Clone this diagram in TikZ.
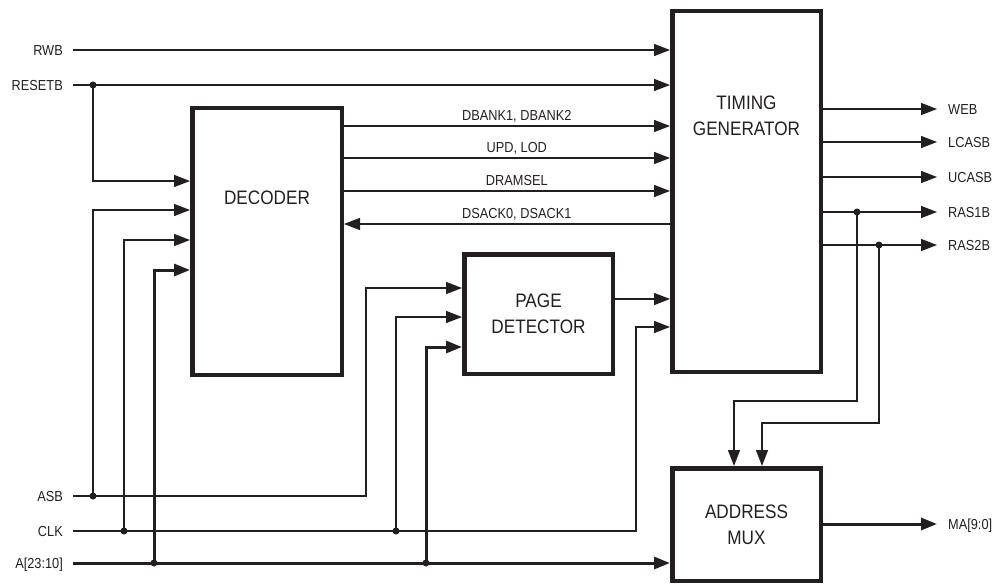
\documentclass[tikz,border=0pt]{standalone}
\usepackage{fontspec}
\setmainfont{Liberation Sans}[FakeStretch=0.88]
\usepackage{tikz}
\usetikzlibrary{arrows.meta,calc,positioning}
\usepackage{xcolor}
\definecolor{ink}{HTML}{231F20}
\newcommand{\sigfont}{\fontsize{14.5}{17}\selectfont}
\newcommand{\blockfont}{\fontsize{19.5}{26}\selectfont}

\begin{document}
\begin{tikzpicture}[x=1pt,y=-1pt,>={Triangle[length=16pt,width=12pt]},
  block/.style={draw=ink,line width=4.5pt,inner sep=0pt},
  blocktext/.style={font=\blockfont,text=ink,align=center,inner sep=0pt},
  sig/.style={font=\sigfont,text=ink,inner sep=0pt,text height=10.4pt,text depth=0pt},
  wire/.style={draw=ink,line width=1.4pt},
  bus/.style={draw=ink,line width=3pt},
  dot/.style={circle,fill=ink,inner sep=0pt,minimum size=7pt}]
  \useasboundingbox (0,0) rectangle (997,586);

  % blocks
  \node[block,minimum width=149.5pt,minimum height=266.5pt] (dec) at (267,241.5) {};
  \node[block,minimum width=148.5pt,minimum height=360.5pt] (tg) at (746.5,191.5) {};
  \node[block,minimum width=148.5pt,minimum height=119.5pt] (pd) at (538.5,314) {};
  \node[block,minimum width=148.5pt,minimum height=112.5pt] (mux) at (746.5,524.5) {};
  \node[blocktext] (dectext) at (267,198) {DECODER};
  \node[blocktext] (tgtext) at (746.5,116) {TIMING\\GENERATOR};
  \node[blocktext] (pdtext) at (pd.center) {PAGE\\DETECTOR};
  \node[blocktext] (muxtext) at (mux.center) {ADDRESS\\MUX};

  % signal names
  \node[sig,anchor=east] (rwb) at (63,50) {RWB};
  \node[sig,anchor=east] (resetb) at (63,85) {RESETB};
  \node[sig,anchor=east] (asb) at (63,496) {ASB};
  \node[sig,anchor=east] (clk) at (63,531) {CLK};
  \node[sig,anchor=east] (addr) at (63,563) {A[23:10]};
  \node[sig,anchor=west] (web) at (948,109) {WEB};
  \node[sig,anchor=west] (lcasb) at (948,142) {LCASB};
  \node[sig,anchor=west] (ucasb) at (948,177) {UCASB};
  \node[sig,anchor=west] (ras1b) at (948,212) {RAS1B};
  \node[sig,anchor=west] (ras2b) at (948,245) {RAS2B};
  \node[sig,anchor=west] (ma) at (948,524) {MA[9:0]};

  % junctions
  \node[dot] (rstdot) at (93,85) {};
  \node[dot] (asbdot) at (93,496) {};
  \node[dot] (clkdot1) at (124,531) {};
  \node[dot] (clkdot2) at (396,531) {};
  \node[dot] (adrdot1) at (154,563) {};
  \node[dot] (adrdot2) at (426,563) {};
  \node[dot] (ras1dot) at (857,212) {};
  \node[dot] (ras2dot) at (879,245) {};

  % inputs
  \draw[wire,->] ([xshift=10pt]rwb.east) -- (tg.west |- rwb);
  \draw[wire,->] ([xshift=10pt]resetb.east) -- (tg.west |- resetb);
  \draw[wire,->] (rstdot.center) |- (dec.west |- 0,181);
  \draw[wire,->] ([xshift=10pt]asb.east) -| (366,288) -- (pd.west |- 0,288);
  \draw[wire,->] (asbdot.center) |- (dec.west |- 0,210);
  \draw[wire,->] ([xshift=10pt]clk.east) -| (636,327) -- (tg.west |- 0,327);
  \draw[wire,->] (clkdot1.center) |- (dec.west |- 0,240);
  \draw[wire,->] (clkdot2.center) |- (pd.west |- 0,317);
  \draw[bus,->] ([xshift=10pt]addr.east) -- (mux.west |- addr);
  \draw[bus,->] (adrdot1.center) |- (dec.west |- 0,270);
  \draw[bus,->] (adrdot2.center) |- (pd.west |- 0,347);

  % decoder <-> timing generator
  \draw[wire,->] (dec.east |- 0,126) -- node[sig,pos=.53,above=5pt] (dbanktext) {DBANK1, DBANK2} (tg.west |- 0,126);
  \draw[wire,->] (dec.east |- 0,158) -- node[sig,pos=.53,above=5pt] (updtext) {UPD, LOD} (tg.west |- 0,158);
  \draw[wire,->] (dec.east |- 0,191) -- node[sig,pos=.53,above=5pt] (dramtext) {DRAMSEL} (tg.west |- 0,191);
  \draw[wire,->] (tg.west |- 0,224) -- node[sig,pos=.47,above=5pt] (dsacktext) {DSACK0, DSACK1} (dec.east |- 0,224);
  \draw[wire,->] (pd.east |- 0,299) -- (tg.west |- 0,299);

  % outputs
  \draw[wire,->] (tg.east |- web) -- ([xshift=-11pt]web.west);
  \draw[wire,->] (tg.east |- lcasb) -- ([xshift=-11pt]lcasb.west);
  \draw[wire,->] (tg.east |- ucasb) -- ([xshift=-11pt]ucasb.west);
  \draw[wire,->] (tg.east |- ras1b) -- ([xshift=-11pt]ras1b.west);
  \draw[wire,->] (tg.east |- ras2b) -- ([xshift=-11pt]ras2b.west);
  \draw[wire,->] (ras1dot.center) |- (734,401) -- (mux.north -| 734,0);
  \draw[wire,->] (ras2dot.center) |- (762,423) -- (mux.north -| 762,0);
  \draw[bus,->] (mux.east |- ma) -- ([xshift=-11pt]ma.west);
\end{tikzpicture}
\end{document}
